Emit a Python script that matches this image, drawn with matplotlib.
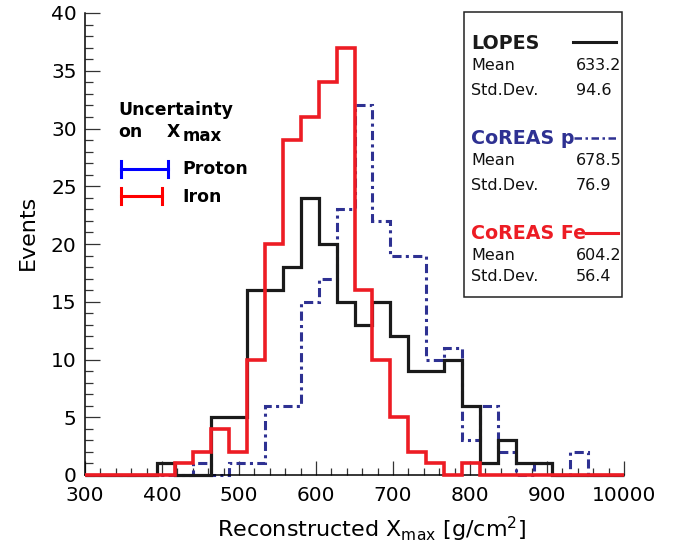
"""
Reconstructed Xmax distribution: LOPES data vs CoREAS proton / iron simulations.

Output:
    out.png
"""

import numpy as np
import matplotlib.pyplot as plt
from matplotlib.lines import Line2D
from matplotlib.patches import Rectangle


# ---------------------------------------------------------------------
# Plot style
# ---------------------------------------------------------------------

plt.rcParams.update({
    "font.family": "DejaVu Sans",
    "mathtext.fontset": "dejavusans",
    "axes.linewidth": 1.1,
    "axes.spines.top": False,
    "axes.spines.right": False,
})


# ---------------------------------------------------------------------
# Data (30 bins between 300 and 1000 g/cm^2)
# ---------------------------------------------------------------------

x_min, x_max, n_bins = 300, 1000, 30

lopes_counts = [0, 0, 0, 0, 1, 0, 0, 5, 5, 16, 16, 18, 24, 20, 15,
                13, 15, 12, 9, 9, 10, 6, 1, 3, 1, 1, 0, 0, 0, 0]
proton_counts = [0, 0, 0, 0, 0, 0, 1, 0, 1, 1, 6, 6, 15, 17, 23,
                 32, 22, 19, 19, 10, 11, 3, 6, 2, 0, 1, 0, 2, 0, 0]
iron_counts = [0, 0, 0, 0, 0, 1, 2, 4, 2, 10, 20, 29, 31, 34, 37,
               16, 10, 5, 2, 1, 0, 1, 0, 0, 0, 0, 0, 0, 0, 0]

stats_names = ["LOPES", "CoREAS p", "CoREAS Fe"]
stats_mean = ["633.2", "678.5", "604.2"]
stats_std = ["94.6", "76.9", "56.4"]

x_ticks = [300, 400, 500, 600, 700, 800, 900, 1000]
x_tick_labels = ["300", "400", "500", "600", "700", "800", "900", "10000"]

black = "#1a1a1a"
blue_sim = "#2e3192"
red_sim = "#ed1c24"

edges = np.linspace(x_min, x_max, n_bins + 1)


# ---------------------------------------------------------------------
# Figure
# ---------------------------------------------------------------------

W, H = 684, 548
fig = plt.figure(figsize=(W / 100, H / 100), dpi=100)
ax = fig.add_axes([85 / W, 1 - 475 / H, 539 / W, 462 / H])


def fx(px):
    return px / W


def fy(py):
    return 1 - py / H


ax.stairs(proton_counts, edges, color=blue_sim, linewidth=2.2,
          linestyle=(0, (3, 1.4, 1, 1.4)), clip_on=False, zorder=2)
ax.stairs(lopes_counts, edges, color=black, linewidth=2.3,
          clip_on=False, zorder=3)
ax.stairs(iron_counts, edges, color=red_sim, linewidth=2.6,
          clip_on=False, zorder=4)

ax.set_xlim(x_min, x_max)
ax.set_ylim(0, 40)

ax.set_xticks(x_ticks)
ax.set_xticklabels(x_tick_labels)
ax.set_xticks(np.arange(300, 1001, 20), minor=True)
ax.set_yticks(np.arange(0, 41, 5))
ax.set_yticks(np.arange(0, 41, 1), minor=True)

ax.tick_params(axis="both", which="both", direction="in",
               color="#333333", labelsize=14.5, width=0.9)
ax.tick_params(axis="x", which="major", length=10, pad=8)
ax.tick_params(axis="x", which="minor", length=5)
ax.tick_params(axis="y", which="major", length=11, pad=6)
ax.tick_params(axis="y", which="minor", length=5.5)

ax.set_xlabel(r"Reconstructed X$_{\rm max}$ [g/cm$^{2}$]", fontsize=16)
ax.xaxis.label.set_va("baseline")
ax.xaxis.set_label_coords((372 - 85) / 539, -(537 - 475) / 462)

ax.set_ylabel("Events", fontsize=16)
ax.yaxis.label.set_va("center")
ax.yaxis.set_label_coords((28 - 85) / 539, (475 - 232) / 462)


# ---------------------------------------------------------------------
# Statistics box (right)
# ---------------------------------------------------------------------

fig.patches.append(Rectangle((fx(464), fy(297)), fx(622) - fx(464),
                             fy(12) - fy(297), transform=fig.transFigure,
                             facecolor="white", edgecolor="#222222",
                             linewidth=1.1, zorder=5))

name_colors = [black, blue_sim, red_sim]
name_base = [49, 144, 239]
mean_base = [70, 165, 260]
std_base = [95, 190, 281]
sample_lines = [
    (573, 616, 42, "-", 2.2),
    (574, 617, 137.5, (0, (3, 1.4, 1, 1.4)), 1.8),
    (586, 618, 232.5, "-", 2.2),
]

for i in range(3):
    fig.text(fx(471), fy(name_base[i]), stats_names[i], color=name_colors[i],
             fontsize=13.7, fontweight="bold", va="baseline", zorder=6)
    fig.text(fx(471), fy(mean_base[i]), "Mean", color="#111111",
             fontsize=11.5, va="baseline", zorder=6)
    fig.text(fx(576), fy(mean_base[i]), stats_mean[i], color="#111111",
             fontsize=11.5, va="baseline", zorder=6)
    fig.text(fx(471), fy(std_base[i]), "Std.Dev.", color="#111111",
             fontsize=11.5, va="baseline", zorder=6)
    fig.text(fx(576), fy(std_base[i]), stats_std[i], color="#111111",
             fontsize=11.5, va="baseline", zorder=6)

    x0, x1, yl, ls, lw = sample_lines[i]
    fig.lines.append(Line2D([fx(x0), fx(x1)], [fy(yl), fy(yl)],
                            transform=fig.transFigure, color=name_colors[i],
                            linestyle=ls, linewidth=lw, zorder=6))


# ---------------------------------------------------------------------
# Uncertainty legend (left)
# ---------------------------------------------------------------------

fig.text(fx(118), fy(115), "Uncertainty", fontsize=12.4, fontweight="bold",
         va="baseline")
fig.text(fx(118), fy(137), "on", fontsize=12.4, fontweight="bold",
         va="baseline")
fig.text(fx(167), fy(137), "X", fontsize=12.4, fontweight="bold",
         va="baseline")
fig.text(fx(183), fy(141), "max", fontsize=12, fontweight="bold",
         va="baseline")

for color, x1, yc, label, yb in [("#0000ff", 167.5, 169, "Proton", 174),
                                 ("#ff0000", 161.5, 196, "Iron", 201.5)]:
    fig.lines.append(Line2D([fx(121), fx(x1)], [fy(yc), fy(yc)],
                            transform=fig.transFigure, color=color,
                            linewidth=2.2))
    for xc in (121, x1):
        fig.lines.append(Line2D([fx(xc), fx(xc)], [fy(yc - 8), fy(yc + 8)],
                                transform=fig.transFigure, color=color,
                                linewidth=2.2))
    fig.text(fx(182), fy(yb), label, fontsize=12.4, fontweight="bold",
             va="baseline")

fig.savefig("out.png", dpi=100)
